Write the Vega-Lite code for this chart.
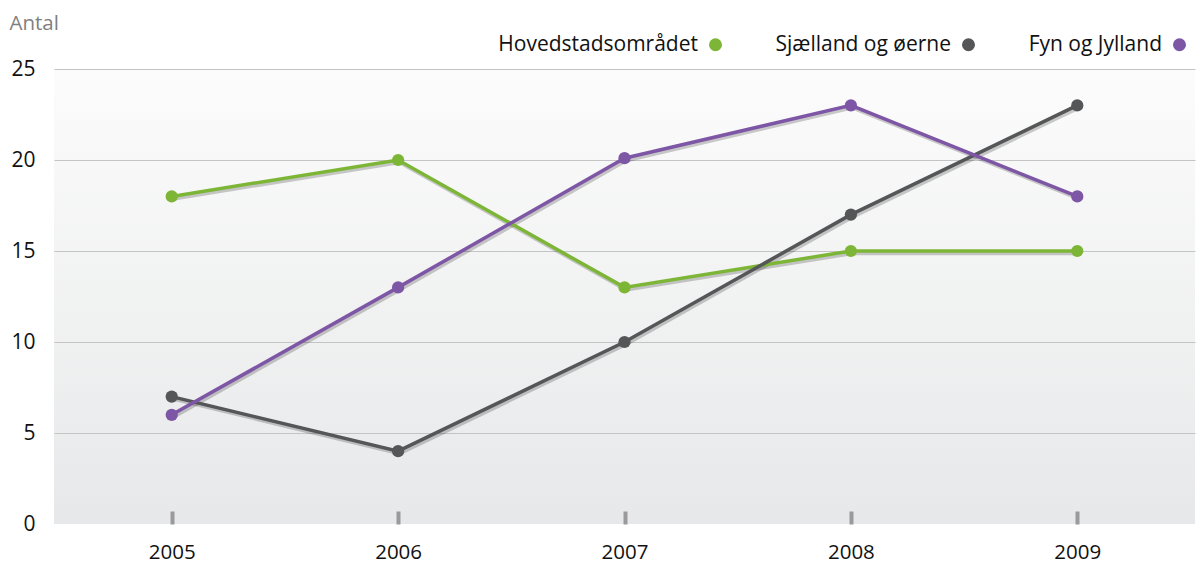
{
  "$schema": "https://vega.github.io/schema/vega-lite/v6.json",
  "autosize": "none",
  "width": 1141,
  "height": 455,
  "padding": {"left": 54, "top": 69, "right": 5, "bottom": 39},
  "background": "#ffffff",
  "config": {
    "font": "Open Sans",
    "view": {
      "stroke": null,
      "fill": {"gradient": "linear", "x1": 0, "y1": 0, "x2": 0, "y2": 1, "stops": [{"offset": 0, "color": "#fcfcfc"}, {"offset": 1, "color": "#e7e8e9"}]}
    }
  },
  "data": {
    "values": [
      {"year": "2005", "region": "Hovedstadsområdet", "value": 18},
      {"year": "2006", "region": "Hovedstadsområdet", "value": 20},
      {"year": "2007", "region": "Hovedstadsområdet", "value": 13},
      {"year": "2008", "region": "Hovedstadsområdet", "value": 15},
      {"year": "2009", "region": "Hovedstadsområdet", "value": 15},
      {"year": "2005", "region": "Sjælland og øerne", "value": 7},
      {"year": "2006", "region": "Sjælland og øerne", "value": 4},
      {"year": "2007", "region": "Sjælland og øerne", "value": 10},
      {"year": "2008", "region": "Sjælland og øerne", "value": 17},
      {"year": "2009", "region": "Sjælland og øerne", "value": 23},
      {"year": "2005", "region": "Fyn og Jylland", "value": 6},
      {"year": "2006", "region": "Fyn og Jylland", "value": 13},
      {"year": "2007", "region": "Fyn og Jylland", "value": 20.1},
      {"year": "2008", "region": "Fyn og Jylland", "value": 23},
      {"year": "2009", "region": "Fyn og Jylland", "value": 18}
    ]
  },
  "encoding": {
    "x": {
      "field": "year", "type": "ordinal",
      "scale": {"type": "point", "padding": 0.52},
      "axis": {
        "title": null, "labelAngle": 0, "domain": false, "grid": false,
        "ticks": true, "tickSize": -13, "tickWidth": 4, "tickColor": "#9a9a9c",
        "labelPadding": 31, "labelFontSize": 20.5, "labelColor": "#111111", "labelFont": "Open Sans", "labelFontWeight": "normal"
      }
    },
    "y": {
      "field": "value", "type": "quantitative",
      "scale": {"domain": [0, 25]},
      "axis": {
        "values": [0, 5, 10, 15, 20, 25],
        "title": "Antal", "titleAngle": 0, "titleAlign": "left", "titleBaseline": "middle",
        "titleX": -45, "titleY": -46, "titleFontSize": 20.5, "titleFontWeight": "normal", "titleColor": "#7f7f7f",
        "domain": false, "ticks": false, "labelPadding": 19, "labelFontSize": 21, "labelColor": "#111111", "labelFontWeight": "normal",
        "gridColor": "#c4c4c4", "gridWidth": 1.2,
        "gridOpacity": {"condition": {"test": "datum.value === 0", "value": 0}, "value": 1}
      }
    }
  },
  "layer": [
    {
      "mark": {"type": "line", "strokeWidth": 3.5, "color": "#000000", "opacity": 0.2, "xOffset": 1.5, "yOffset": 2.5},
      "encoding": {"detail": {"field": "region"}}
    },
    {
      "mark": {"type": "line", "strokeWidth": 3.5},
      "encoding": {
        "color": {
          "field": "region", "type": "nominal",
          "scale": {"domain": ["Hovedstadsområdet", "Sjælland og øerne", "Fyn og Jylland"], "range": ["#7db637", "#555658", "#7e56a6"]},
          "legend": {
            "title": null, "orient": "none", "direction": "horizontal",
            "legendX": 651, "legendY": -35,
            "symbolType": "circle", "symbolSize": 170, "symbolStrokeWidth": 0, "symbolOpacity": 1,
            "labelAlign": "right", "labelOffset": -28, "labelFontSize": 21, "labelFontWeight": "normal", "labelColor": "#111111",
            "labelLimit": 0, "columnPadding": 52
          }
        }
      }
    },
    {
      "mark": {"type": "point", "filled": true, "size": 150, "opacity": 1},
      "encoding": {"color": {"field": "region", "type": "nominal"}}
    }
  ]
}
